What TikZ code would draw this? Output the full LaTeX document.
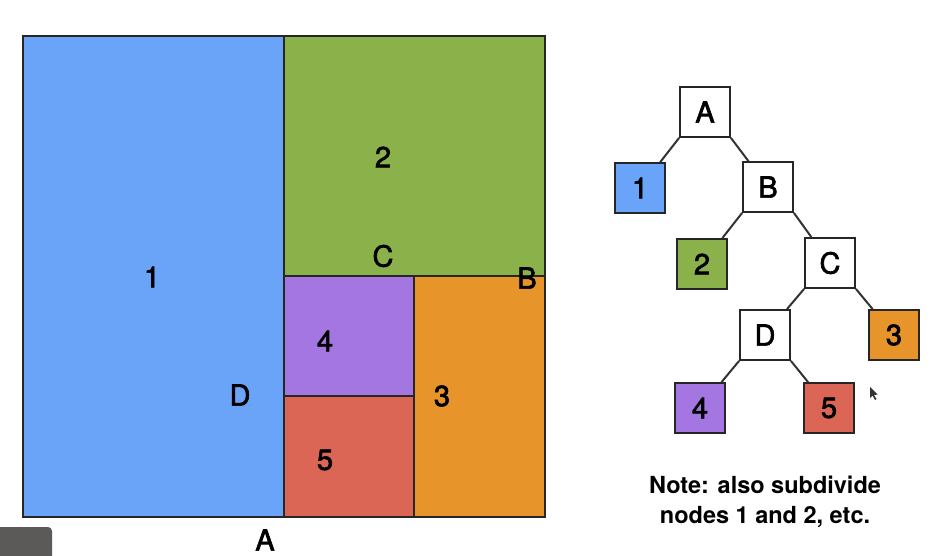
\documentclass[tikz,border=0pt]{standalone}
\usepackage{fontspec}
\setmainfont{TeX Gyre Heros}
\newfontfamily\medfont[FakeBold=2.2]{TeX Gyre Heros}
\begin{document}
\begin{tikzpicture}[x=1pt,y=-1pt,
  region/.style={draw=black!85,line width=1.6pt},
  lbl/.style={font=\medfont\fontsize{29}{30}\selectfont,inner sep=0pt},
  tbox/.style={draw=black!85,line width=1.8pt,minimum width=50pt,minimum height=50pt,inner sep=0pt,font=\medfont\fontsize{29}{30}\selectfont},
  edge/.style={draw=black!80,line width=2pt}]
\definecolor{cblue}{RGB}{106,164,248}
\definecolor{cgreen}{RGB}{139,178,74}
\definecolor{cpurple}{RGB}{164,118,226}
\definecolor{cred}{RGB}{220,102,86}
\definecolor{corange}{RGB}{231,148,42}
\definecolor{cgray}{RGB}{92,90,88}
\useasboundingbox (0,0) rectangle (941,555);
\fill[white] (0,0) rectangle (941,555);
% left panel
\filldraw[region,fill=cblue] (23,36) rectangle (284,517);
\filldraw[region,fill=cgreen] (284,36) rectangle (545,276);
\filldraw[region,fill=cpurple] (284,276) rectangle (414,396);
\filldraw[region,fill=cred] (284,396) rectangle (414,517);
\filldraw[region,fill=corange] (414,276) rectangle (545,517);
\node[lbl] (l1) at (152,277) {1};
\node[lbl] (l2) at (383,157) {2};
\node[lbl] (lC) at (383,256) {C};
\node[lbl] (lB) at (527,278) {B};
\node[lbl] (l4) at (325,341) {4};
\node[lbl] (lD) at (240,395) {D};
\node[lbl] (l3) at (442,396) {3};
\node[lbl] (l5) at (325,460) {5};
\node[lbl] (lA) at (265,540) {A};
% artifact
\fill[cgray,rounded corners=4pt] (-5,527) rectangle (52,560);
% tree
\node[tbox,fill=white] (tA) at (705,112) {A};
\node[tbox,fill=cblue] (t1) at (640,188) {1};
\node[tbox,fill=white] (tB) at (768,187) {B};
\node[tbox,fill=cgreen] (t2) at (702,264) {2};
\node[tbox,fill=white] (tC) at (830,263) {C};
\node[tbox,fill=white] (tD) at (765,335) {D};
\node[tbox,fill=corange] (t3) at (894,335) {3};
\node[tbox,fill=cpurple] (t4) at (700,408) {4};
\node[tbox,fill=cred] (t5) at (829,408) {5};
\draw[edge] (tA.south west) -- (t1);
\draw[edge] (tA.south east) -- (tB);
\draw[edge] (tB.south west) -- (t2);
\draw[edge] (tB.south east) -- (tC);
\draw[edge] (tC.south west) -- (tD);
\draw[edge] (tC.south east) -- (t3);
\draw[edge] (tD.south west) -- (t4);
\draw[edge] (tD.south east) -- (t5);
% cursor
\fill[black!80] (870,387) -- (870,398) -- (872.5,395.5) -- (875,400) -- (876.5,399) -- (874,395) -- (877.5,394.5) -- cycle;
% note
\node[font=\bfseries\fontsize{23.5}{30}\selectfont,align=center,inner sep=0pt] (note) at (765,502) {Note: also subdivide\\nodes 1 and 2, etc.};
\end{tikzpicture}
\end{document}
